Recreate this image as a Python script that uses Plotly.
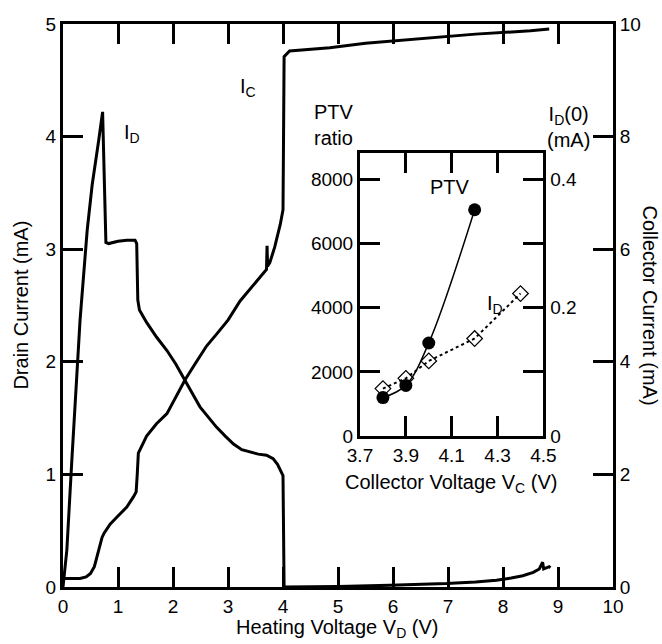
import plotly.graph_objects as go

# ---------------- main chart data ----------------
# Drain current I_D (left axis, mA) vs heating voltage V_D (V)
id_vd = [0.0, 0.07, 0.16, 0.27, 0.31, 0.44, 0.53, 0.65, 0.72, 0.78, 0.83, 1.0, 1.16, 1.31,
         1.34, 1.36, 1.39, 1.46, 1.52, 1.70, 1.89, 2.05, 2.22, 2.35, 2.49, 2.65, 2.79, 2.95,
         3.10, 3.25, 3.40, 3.55, 3.70, 3.82, 3.90, 3.97, 4.00, 4.02, 4.5, 5.0, 5.94, 6.97,
         7.5, 7.88, 8.15, 8.36, 8.55, 8.66, 8.72, 8.74, 8.84, 8.86]
id_ma = [0.0, 0.33, 1.12, 2.01, 2.37, 3.17, 3.57, 3.97, 4.22, 3.06, 3.05, 3.07, 3.08, 3.08,
         3.05, 2.55, 2.46, 2.40, 2.35, 2.22, 2.10, 1.98, 1.84, 1.72, 1.60, 1.50, 1.42, 1.34,
         1.27, 1.22, 1.20, 1.18, 1.17, 1.14, 1.09, 1.02, 0.99, 0.0, 0.0, 0.005, 0.015, 0.03,
         0.045, 0.06, 0.08, 0.10, 0.13, 0.16, 0.22, 0.16, 0.18, 0.17]

# Collector current I_C (right axis, mA) vs heating voltage V_D (V)
ic_vd = [0.0, 0.31, 0.42, 0.50, 0.57, 0.62, 0.67, 0.71, 0.75, 0.86, 1.00, 1.16, 1.28, 1.33,
         1.35, 1.37, 1.52, 1.70, 1.89, 2.05, 2.22, 2.40, 2.61, 2.80, 3.00, 3.22, 3.45, 3.64,
         3.70, 3.71, 3.72, 3.76, 3.85, 3.95, 4.00, 4.01, 4.02, 4.12, 4.85, 5.5, 6.5, 7.5,
         8.5, 8.84]
ic_ma = [0.15, 0.15, 0.18, 0.24, 0.36, 0.54, 0.72, 0.88, 0.96, 1.12, 1.26, 1.42, 1.60, 1.69,
         2.0, 2.38, 2.68, 2.90, 3.08, 3.38, 3.68, 3.96, 4.28, 4.50, 4.74, 5.08, 5.34, 5.56,
         5.64, 6.06, 5.70, 5.76, 6.04, 6.44, 6.70, 8.0, 9.42, 9.52, 9.58, 9.66, 9.74, 9.82,
         9.88, 9.91]

# ---------------- inset data ----------------
ptv_vc = [3.8, 3.9, 4.0, 4.2]
ptv_ratio = [1200, 1580, 2900, 7050]
id0_vc = [3.8, 3.9, 4.0, 4.2, 4.4]
id0_ma = [0.074, 0.09, 0.117, 0.152, 0.222]

FONT = "Liberation Sans, Arial, Helvetica, sans-serif"
BLACK = "black"

fig = go.Figure()
fig.add_trace(go.Scatter(x=id_vd, y=id_ma, mode="lines", xaxis="x", yaxis="y",
                         line=dict(color=BLACK, width=3), showlegend=False))
fig.add_trace(go.Scatter(x=ic_vd, y=ic_ma, mode="lines", xaxis="x", yaxis="y2",
                         line=dict(color=BLACK, width=3), showlegend=False))
fig.add_trace(go.Scatter(x=ptv_vc, y=ptv_ratio, mode="lines+markers", xaxis="x3", yaxis="y3",
                         line=dict(color=BLACK, width=1.5, shape="spline"),
                         marker=dict(symbol="circle", size=13, color=BLACK),
                         showlegend=False))
fig.add_trace(go.Scatter(x=id0_vc, y=id0_ma, mode="lines+markers", xaxis="x3", yaxis="y4",
                         line=dict(color=BLACK, width=2, dash="dot"),
                         marker=dict(symbol="diamond-open", size=12, color=BLACK,
                                     line=dict(width=1.2, color=BLACK)),
                         showlegend=False))

tf = dict(family=FONT, size=19, color=BLACK)
base = dict(showline=True, linewidth=3, linecolor=BLACK, showgrid=False, zeroline=False,
            tickfont=tf, tickwidth=3, tickcolor=BLACK, ticks="inside", ticklen=20)
fig.update_layout(
    width=662, height=644, margin=dict(l=63, r=49, t=24, b=57),
    paper_bgcolor="white", plot_bgcolor="white",
    xaxis=dict(domain=[0, 1], range=[0, 10], dtick=1, tick0=0,
               mirror="ticks", anchor="y", **base),
    yaxis=dict(domain=[0, 1], range=[0, 5], dtick=1, tick0=0, anchor="x", **base),
    yaxis2=dict(range=[0, 10], dtick=2, tick0=0, overlaying="y", side="right",
                anchor="x", **base),
    xaxis3=dict(domain=[0.540, 0.8735], range=[3.7, 4.5], dtick=0.2, tick0=3.7,
                tickformat=".1f", mirror="ticks", anchor="y3", **base),
    yaxis3=dict(domain=[0.268, 0.7706], range=[0, 8812], dtick=2000, tick0=0,
                anchor="x3", **base),
    yaxis4=dict(range=[0, 0.4406], dtick=0.2, tick0=0, overlaying="y3", side="right",
                anchor="x3",
                minor=dict(dtick=0.1, tick0=0, ticks="inside", ticklen=20, tickwidth=3,
                           tickcolor=BLACK, showgrid=False),
                **base),
)

af = dict(family=FONT, size=20, color=BLACK)
annotations = [
    dict(text="Heating Voltage V<sub>D</sub> (V)", xref="paper", yref="paper",
         x=0.4985, y=-0.073, xanchor="center", yanchor="middle", showarrow=False, font=af),
    dict(text="Drain Current (mA)", xref="paper", yref="paper", textangle=-90,
         x=-0.078, y=0.5, xanchor="center", yanchor="middle", showarrow=False, font=af),
    dict(text="Collector Current (mA)", xref="paper", yref="paper", textangle=90,
         x=(651 - 62.7) / 550.3, y=0.5, xanchor="center", yanchor="middle",
         showarrow=False, font=af),
    dict(text="I<sub>C</sub>", xref="x", yref="y", x=3.37, y=4.44, showarrow=False, font=af),
    dict(text="I<sub>D</sub>", xref="x", yref="y", x=1.26, y=4.03, showarrow=False, font=af),
    dict(text="Collector Voltage V<sub>C</sub> (V)", xref="paper", yref="paper",
         x=0.706, y=0.184, xanchor="center", yanchor="middle", showarrow=False, font=af),
    dict(text="PTV<br>ratio", xref="paper", yref="paper", x=(312 - 62.7) / 550.3,
         y=(586.7 - 125) / 562.4, xanchor="left", yanchor="middle", align="left",
         showarrow=False, font=af),
    dict(text="I<sub>D</sub>(0)<br>(mA)", xref="paper", yref="paper", x=(568 - 62.7) / 550.3,
         y=(586.7 - 127) / 562.4, xanchor="center", yanchor="middle", align="center",
         showarrow=False, font=af),
    dict(text="PTV", xref="x3", yref="y3", x=4.19, y=7350, xanchor="right",
         yanchor="bottom", showarrow=False, font=af),
    dict(text="I<sub>D</sub>", xref="x3", yref="y3", x=4.29, y=4100,
         xanchor="center", yanchor="middle", showarrow=False, font=af),
]
fig.update_layout(annotations=annotations)
fig.write_html("out.html")
